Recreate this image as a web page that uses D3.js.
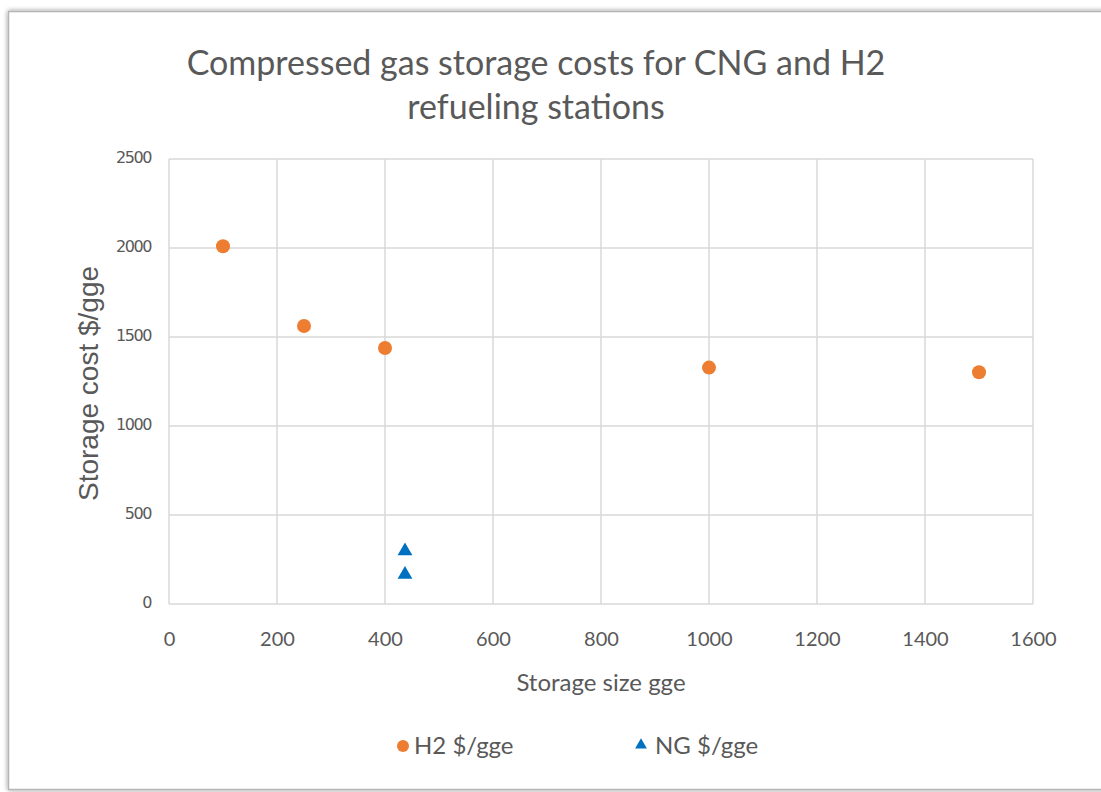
<!DOCTYPE html>
<html>
<head>
<meta charset="utf-8">
<script src="https://cdn.jsdelivr.net/npm/d3@7"></script>
<style>
  html, body { margin: 0; padding: 0; background: #ffffff; }
  svg { display: block; }
</style>
</head>
<body>
<script>
// Storage size (gge) and storage cost ($/gge) for each series
const h2Size = [100, 250, 400, 1000, 1500];
const h2Cost = [2010, 1562, 1438, 1328, 1302];
const ngSize = [437, 437];
const ngCost = [298, 166];

const xTicks = [0, 200, 400, 600, 800, 1000, 1200, 1400, 1600];
const yTicks = [0, 500, 1000, 1500, 2000, 2500];

const titleLines = ["Compressed gas storage costs for CNG and H2", "refueling stations"];
const xTitle = "Storage size gge";
const yTitle = "Storage cost $/gge";
const seriesNames = ["H2 $/gge", "NG $/gge"];

const W = 1101, H = 792;
const plot = { left: 169, right: 1033, top: 159, bottom: 604 };

const orange = "#ED7D31";
const blue = "#0070C0";
const textGray = "#595959";
const gridGray = "#d9d9d9";

const svg = d3.select("body").append("svg")
  .attr("width", W).attr("height", H);

// Frame with a soft shadow
const defs = svg.append("defs");
const f = defs.append("filter").attr("id", "shadow")
  .attr("x", "-5%").attr("y", "-5%").attr("width", "110%").attr("height", "110%");
f.append("feGaussianBlur").attr("in", "SourceAlpha").attr("stdDeviation", 2.5);
f.append("feOffset").attr("dx", 0).attr("dy", 0).attr("result", "b");
f.append("feComponentTransfer").append("feFuncA").attr("type", "linear").attr("slope", 0.45);
const m = f.append("feMerge");
m.append("feMergeNode");
m.append("feMergeNode").attr("in", "SourceGraphic");

svg.append("rect")
  .attr("x", 8.5).attr("y", 11.5).attr("width", 1110).attr("height", 778)
  .attr("fill", "#ffffff").attr("stroke", "#b5b5b5").attr("stroke-width", 1.5)
  .attr("filter", "url(#shadow)");

const x = d3.scaleLinear().domain([0, 1600]).range([plot.left, plot.right]);
const y = d3.scaleLinear().domain([0, 2500]).range([plot.bottom, plot.top]);

// Gridlines
const grid = svg.append("g");
grid.selectAll("line.v").data(xTicks).join("line")
  .attr("x1", d => x(d)).attr("x2", d => x(d))
  .attr("y1", plot.top).attr("y2", plot.bottom)
  .attr("stroke", gridGray).attr("stroke-width", 1.5);
grid.selectAll("line.h").data(yTicks).join("line")
  .attr("y1", d => y(d)).attr("y2", d => y(d))
  .attr("x1", plot.left).attr("x2", plot.right)
  .attr("stroke", gridGray).attr("stroke-width", 1.5);

// Axes (labels only; gridlines carry the lines)
const xAxis = svg.append("g")
  .attr("transform", `translate(0,${plot.bottom})`)
  .call(d3.axisBottom(x).tickValues(xTicks).tickSize(0).tickPadding(28).tickFormat(d3.format("d")));
xAxis.select(".domain").remove();
xAxis.selectAll("text")
  .attr("fill", textGray).style("font-family", "Lato, 'Open Sans', sans-serif")
  .style("font-size", "20px");

const yAxis = svg.append("g")
  .attr("transform", `translate(${plot.left},0)`)
  .call(d3.axisLeft(y).tickValues(yTicks).tickSize(0).tickPadding(18).tickFormat(d3.format("d")));
yAxis.select(".domain").remove();
yAxis.selectAll("text")
  .attr("fill", textGray).attr("dy", "0.2em")
  .style("font-family", "'DejaVu Sans', Verdana, sans-serif")
  .style("font-size", "16px").style("letter-spacing", "-1.4px");

// Title
svg.append("text")
  .attr("text-anchor", "middle")
  .attr("fill", textGray)
  .style("font-family", "Lato, 'Open Sans', sans-serif")
  .style("font-size", "34px")
  .selectAll("tspan").data(titleLines).join("tspan")
  .attr("x", 536).attr("y", (d, i) => 75 + i * 44)
  .text(d => d);

// Axis titles
svg.append("text")
  .attr("x", (plot.left + plot.right) / 2).attr("y", 691)
  .attr("text-anchor", "middle").attr("fill", textGray)
  .style("font-family", "Lato, 'Open Sans', sans-serif").style("font-size", "24px")
  .text(xTitle);

svg.append("text")
  .attr("transform", `translate(98,${(plot.top + plot.bottom) / 2 + 2}) rotate(-90)`)
  .attr("text-anchor", "middle").attr("fill", textGray)
  .style("font-family", "'Liberation Sans', Arial, sans-serif").style("font-size", "28px")
  .text(yTitle);

// Markers
const h2 = h2Size.map((s, i) => ({ s, c: h2Cost[i] }));
const ng = ngSize.map((s, i) => ({ s, c: ngCost[i] }));

svg.append("g").selectAll("circle").data(h2).join("circle")
  .attr("cx", d => x(d.s)).attr("cy", d => y(d.c)).attr("r", 7)
  .attr("fill", orange);

const tri = d3.symbol().type(d3.symbolTriangle).size(95);
svg.append("g").selectAll("path").data(ng).join("path")
  .attr("transform", d => `translate(${x(d.s)},${y(d.c)})`)
  .attr("d", tri).attr("fill", blue);

// Legend
const lg = svg.append("g").style("font-family", "Lato, 'Open Sans', sans-serif")
  .style("font-size", "24px").attr("fill", textGray);
lg.append("circle").attr("cx", 403).attr("cy", 746).attr("r", 6).attr("fill", orange);
lg.append("text").attr("x", 414).attr("y", 754).text(seriesNames[0]);
lg.append("path").attr("transform", "translate(641,745)")
  .attr("d", d3.symbol().type(d3.symbolTriangle).size(60)).attr("fill", blue);
lg.append("text").attr("x", 655).attr("y", 754).text(seriesNames[1]);
</script>
</body>
</html>
